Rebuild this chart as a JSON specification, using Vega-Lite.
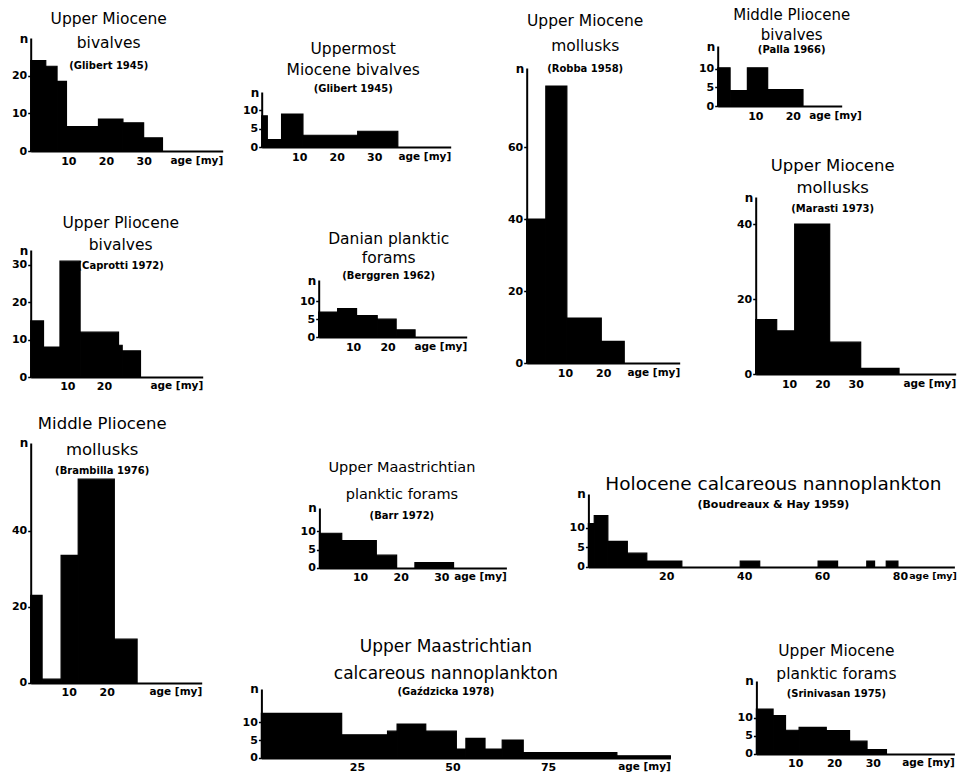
{
  "$schema": "https://vega.github.io/schema/vega-lite/v6.json",
  "background": "white",
  "padding": {"left": 10.7, "top": 7, "right": 2, "bottom": 0},
  "datasets": {
    "p1": [{"age_from":0,"age_to":4,"n":24},{"age_from":4,"age_to":7,"n":22.5},{"age_from":7,"age_to":9.5,"n":18.5},{"age_from":9.5,"age_to":18,"n":6.5},{"age_from":18,"age_to":24.5,"n":8.5},{"age_from":24.5,"age_to":30,"n":7.5},{"age_from":30,"age_to":35,"n":3.5}],
    "p2": [{"age_from":0,"age_to":1.5,"n":8.5},{"age_from":1.5,"age_to":5.3,"n":2},{"age_from":5.3,"age_to":11,"n":9},{"age_from":11,"age_to":25.6,"n":3.2},{"age_from":25.6,"age_to":36.3,"n":4.3}],
    "p3": [{"age_from":0,"age_to":5,"n":40},{"age_from":5,"age_to":10.5,"n":77},{"age_from":10.5,"age_to":19.5,"n":12.5},{"age_from":19.5,"age_to":25.5,"n":6}],
    "p4": [{"age_from":0,"age_to":3.3,"n":10.2},{"age_from":3.3,"age_to":7.9,"n":4.1},{"age_from":7.9,"age_to":13.3,"n":10.2},{"age_from":13.3,"age_to":22.7,"n":4.4}],
    "p5": [{"age_from":0,"age_to":3.5,"n":15},{"age_from":3.5,"age_to":8,"n":8},{"age_from":8,"age_to":13.5,"n":31},{"age_from":13.5,"age_to":24,"n":12},{"age_from":24,"age_to":25,"n":8.5},{"age_from":25,"age_to":30,"n":7}],
    "p6": [{"age_from":0,"age_to":5.5,"n":7},{"age_from":5.5,"age_to":11,"n":8},{"age_from":11,"age_to":17,"n":6},{"age_from":17,"age_to":22.5,"n":5},{"age_from":22.5,"age_to":28,"n":2}],
    "p7": [{"age_from":0,"age_to":6.3,"n":14.5},{"age_from":6.3,"age_to":11.7,"n":11.5},{"age_from":11.7,"age_to":22.2,"n":40},{"age_from":22.2,"age_to":31.5,"n":8.5},{"age_from":31.5,"age_to":43,"n":1.5}],
    "p8": [{"age_from":0,"age_to":3,"n":23},{"age_from":3,"age_to":8,"n":1},{"age_from":8,"age_to":12.5,"n":33.5},{"age_from":12.5,"age_to":22,"n":53.5},{"age_from":22,"age_to":28,"n":11.5}],
    "p9": [{"age_from":0,"age_to":5.5,"n":9.5},{"age_from":5.5,"age_to":14,"n":7.5},{"age_from":14,"age_to":19,"n":3.5},{"age_from":23.5,"age_to":33,"n":1.5}],
    "p10": [{"age_from":0,"age_to":1.5,"n":11},{"age_from":1.5,"age_to":5,"n":13},{"age_from":5,"age_to":10,"n":6.5},{"age_from":10,"age_to":15,"n":3.5},{"age_from":15,"age_to":24,"n":1.5},{"age_from":39,"age_to":44,"n":1.5},{"age_from":59,"age_to":64,"n":1.5},{"age_from":71.5,"age_to":73.5,"n":1.5},{"age_from":76.5,"age_to":79.5,"n":1.5}],
    "p11": [{"age_from":0,"age_to":21,"n":12.5},{"age_from":21,"age_to":33,"n":6.5},{"age_from":33,"age_to":35.5,"n":7.5},{"age_from":35.5,"age_to":43,"n":9.5},{"age_from":43,"age_to":51,"n":7.5},{"age_from":51,"age_to":53.5,"n":2.5},{"age_from":53.5,"age_to":58.5,"n":5.5},{"age_from":58.5,"age_to":63,"n":2.5},{"age_from":63,"age_to":68.5,"n":5},{"age_from":68.5,"age_to":93,"n":1.5},{"age_from":93,"age_to":107,"n":0.6}],
    "p12": [{"age_from":0,"age_to":4.3,"n":12.3},{"age_from":4.3,"age_to":7.5,"n":10.5},{"age_from":7.5,"age_to":11,"n":6.5},{"age_from":11,"age_to":18,"n":7.3},{"age_from":18,"age_to":24,"n":6.4},{"age_from":24,"age_to":28.5,"n":3.5},{"age_from":28.5,"age_to":33.5,"n":1.2}]
  },
  "spacing": 24,
  "vconcat": [
    {
      "spacing": 0,
      "hconcat": [
        {
          "spacing": 0,
          "vconcat": [
            {"width": 1, "height": 4, "data": {"values": []}, "mark": "point"},
            {
              "spacing": 49,
              "vconcat": [
                {
                  "width": 192, "height": 113, "data": {"name": "p1"},
                  "title": {"text": ["Upper Miocene", "bivalves"], "subtitle": "(Glibert 1945)", "offset": -39, "dx": -18, "lineHeight": 25, "subtitlePadding": 9},
                  "mark": "bar",
                  "encoding": {
                    "x": {"field": "age_from", "type": "quantitative", "scale": {"domain": [0, 51], "nice": false}, "axis": {"values": [10, 20, 30], "title": "age [my]", "titleX": 192}},
                    "x2": {"field": "age_to"},
                    "y": {"field": "n", "type": "quantitative", "scale": {"domain": [0, 30], "nice": false}, "axis": {"values": [0, 10, 20], "title": "n"}},
                    "y2": {"datum": 0}
                  }
                },
                {
                  "width": 172, "height": 127, "data": {"name": "p5"},
                  "title": {"text": ["Upper Pliocene", "bivalves"], "subtitle": "(Caprotti 1972)", "offset": -27, "dx": 4, "lineHeight": 23, "subtitlePadding": 7},
                  "mark": "bar",
                  "encoding": {
                    "x": {"field": "age_from", "type": "quantitative", "scale": {"domain": [0, 47], "nice": false}, "axis": {"values": [10, 20], "title": "age [my]", "titleX": 172}},
                    "x2": {"field": "age_to"},
                    "y": {"field": "n", "type": "quantitative", "scale": {"domain": [0, 34], "nice": false}, "axis": {"values": [0, 10, 20, 30], "title": "n"}},
                    "y2": {"datum": 0}
                  }
                }
              ]
            }
          ]
        },
        {"width": 18.7, "height": 1, "data": {"values": []}, "mark": "point"},
        {
          "spacing": 0,
          "vconcat": [
            {"width": 1, "height": 34, "data": {"values": []}, "mark": "point"},
            {
              "spacing": 69,
              "vconcat": [
                {
                  "width": 189, "height": 55, "data": {"name": "p2"},
                  "title": {"text": ["Uppermost", "Miocene bivalves"], "subtitle": "(Glibert 1945)", "offset": -8, "dx": -3, "lineHeight": 22, "subtitlePadding": 5},
                  "mark": "bar",
                  "encoding": {
                    "x": {"field": "age_from", "type": "quantitative", "scale": {"domain": [0, 50.4], "nice": false}, "axis": {"values": [10, 20, 30], "title": "age [my]", "titleX": 189}},
                    "x2": {"field": "age_to"},
                    "y": {"field": "n", "type": "quantitative", "scale": {"domain": [0, 15], "nice": false}, "axis": {"values": [0, 5, 10], "title": "n"}},
                    "y2": {"datum": 0}
                  }
                },
                {
                  "spacing": 0,
                  "hconcat": [
                    {"width": 36.7, "height": 1, "data": {"values": []}, "mark": "point"},
                    {
                      "width": 148, "height": 57, "data": {"name": "p6"},
                      "title": {"text": ["Danian planktic", "forams"], "subtitle": "(Berggren 1962)", "offset": -7, "dx": -4, "lineHeight": 20, "subtitlePadding": 4},
                      "mark": "bar",
                      "encoding": {
                        "x": {"field": "age_from", "type": "quantitative", "scale": {"domain": [0, 43], "nice": false}, "axis": {"values": [10, 20], "title": "age [my]", "titleX": 148}},
                        "x2": {"field": "age_to"},
                        "y": {"field": "n", "type": "quantitative", "scale": {"domain": [0, 16], "nice": false}, "axis": {"values": [0, 5, 10], "title": "n"}},
                        "y2": {"datum": 0}
                      }
                    }
                  ]
                }
              ]
            }
          ]
        },
        {"width": 39.7, "height": 1, "data": {"values": []}, "mark": "point"},
        {
          "spacing": 0,
          "vconcat": [
            {"width": 1, "height": 6, "data": {"values": []}, "mark": "point"},
            {
              "width": 153, "height": 295, "data": {"name": "p3"},
              "title": {"text": ["Upper Miocene", "mollusks"], "subtitle": "(Robba 1958)", "offset": -12, "dx": -18, "lineHeight": 26, "subtitlePadding": 9},
              "mark": "bar",
              "encoding": {
                "x": {"field": "age_from", "type": "quantitative", "scale": {"domain": [0, 40], "nice": false}, "axis": {"values": [10, 20], "title": "age [my]", "titleX": 153}},
                "x2": {"field": "age_to"},
                "y": {"field": "n", "type": "quantitative", "scale": {"domain": [0, 82], "nice": false}, "axis": {"values": [0, 20, 40, 60], "title": "n"}},
                "y2": {"datum": 0}
              }
            }
          ]
        },
        {"width": 17.7, "height": 1, "data": {"values": []}, "mark": "point"},
        {
          "spacing": 0,
          "vconcat": [
            {"width": 1, "height": 1, "data": {"values": []}, "mark": "point"},
            {
              "spacing": 36,
              "vconcat": [
                {
                  "width": 124, "height": 60, "data": {"name": "p4"},
                  "title": {"text": ["Middle Pliocene", "bivalves"], "subtitle": "(Palla 1966)", "offset": -15, "dx": 12, "fontSize": 15, "lineHeight": 20, "subtitlePadding": 2},
                  "mark": "bar",
                  "encoding": {
                    "x": {"field": "age_from", "type": "quantitative", "scale": {"domain": [0, 33], "nice": false}, "axis": {"values": [10, 20], "title": "age [my]", "titleX": 91, "titleAlign": "left"}},
                    "x2": {"field": "age_to"},
                    "y": {"field": "n", "type": "quantitative", "scale": {"domain": [0, 16], "nice": false}, "axis": {"values": [0, 5, 10], "title": "n"}},
                    "y2": {"datum": 0}
                  }
                },
                {
                  "spacing": 0,
                  "hconcat": [
                    {"width": 17.7, "height": 1, "data": {"values": []}, "mark": "point"},
                    {
                      "width": 200, "height": 177, "data": {"name": "p7"},
                      "title": {"text": ["Upper Miocene", "mollusks"], "subtitle": "(Marasti 1973)", "offset": -23, "dx": -23, "fontSize": 16.5, "lineHeight": 23, "subtitlePadding": 7},
                      "mark": "bar",
                      "encoding": {
                        "x": {"field": "age_from", "type": "quantitative", "scale": {"domain": [0, 60], "nice": false}, "axis": {"values": [10, 20, 30], "title": "age [my]", "titleX": 200}},
                        "x2": {"field": "age_to"},
                        "y": {"field": "n", "type": "quantitative", "scale": {"domain": [0, 47.2], "nice": false}, "axis": {"values": [0, 20, 40], "title": "n"}},
                        "y2": {"datum": 0}
                      }
                    }
                  ]
                }
              ]
            }
          ]
        }
      ]
    },
    {
      "spacing": 39.7,
      "hconcat": [
        {
          "width": 171, "height": 240, "data": {"name": "p8"},
          "title": {"text": ["Middle Pliocene", "mollusks"], "subtitle": "(Brambilla 1976)", "offset": -39, "dx": -14, "fontSize": 16.5, "lineHeight": 26, "subtitlePadding": 7.5},
          "mark": "bar",
          "encoding": {
            "x": {"field": "age_from", "type": "quantitative", "scale": {"domain": [0, 45], "nice": false}, "axis": {"values": [10, 20], "title": "age [my]", "titleX": 171}},
            "x2": {"field": "age_to"},
            "y": {"field": "n", "type": "quantitative", "scale": {"domain": [0, 63], "nice": false}, "axis": {"values": [0, 20, 40], "title": "n"}},
            "y2": {"datum": 0}
          }
        },
        {
          "spacing": 0,
          "vconcat": [
            {"width": 1, "height": 16, "data": {"values": []}, "mark": "point"},
            {
              "spacing": 54,
              "vconcat": [
                {
                  "spacing": 0,
                  "hconcat": [
                    {"width": 37.7, "height": 1, "data": {"values": []}, "mark": "point"},
                    {
                      "spacing": 0,
                      "vconcat": [
                        {"width": 1, "height": 1, "data": {"values": []}, "mark": "point"},
                        {
                          "width": 187, "height": 60, "data": {"name": "p9"},
                          "title": {"text": ["Upper Maastrichtian", "planktic forams"], "subtitle": "(Barr 1972)", "offset": -20, "dx": -11, "fontSize": 14.5, "lineHeight": 27, "subtitlePadding": 8},
                          "mark": "bar",
                          "encoding": {
                            "x": {"field": "age_from", "type": "quantitative", "scale": {"domain": [0, 46], "nice": false}, "axis": {"values": [10, 20, 30], "title": "age [my]", "titleX": 187}},
                            "x2": {"field": "age_to"},
                            "y": {"field": "n", "type": "quantitative", "scale": {"domain": [0, 16.4], "nice": false}, "axis": {"values": [0, 5, 10], "title": "n"}},
                            "y2": {"datum": 0}
                          }
                        }
                      ]
                    },
                    {"width": 61.7, "height": 1, "data": {"values": []}, "mark": "point"},
                    {
                      "spacing": 0,
                      "vconcat": [
                        {"width": 1, "height": 16, "data": {"values": []}, "mark": "point"},
                        {
                          "width": 366, "height": 73, "data": {"name": "p10"},
                          "title": {"text": "Holocene calcareous nannoplankton", "subtitle": "(Boudreaux & Hay 1959)", "offset": -22, "dx": 2, "fontSize": 18.5, "subtitleFontSize": 11, "subtitlePadding": 5},
                          "mark": "bar",
                          "encoding": {
                            "x": {"field": "age_from", "type": "quantitative", "scale": {"domain": [0, 94], "nice": false}, "axis": {"values": [20, 40, 60, 80], "title": "age [my]", "titleX": 368, "titleFontSize": 9.5}},
                            "x2": {"field": "age_to"},
                            "y": {"field": "n", "type": "quantitative", "scale": {"domain": [0, 18.5], "nice": false}, "axis": {"values": [0, 5, 10], "title": "n"}},
                            "y2": {"datum": 0}
                          }
                        }
                      ]
                    }
                  ]
                },
                {
                  "spacing": 0,
                  "hconcat": [
                    {
                      "spacing": 0,
                      "vconcat": [
                        {"width": 1, "height": 1, "data": {"values": []}, "mark": "point"},
                        {
                          "width": 409, "height": 69, "data": {"name": "p11"},
                          "title": {"text": ["Upper Maastrichtian", "calcareous nannoplankton"], "subtitle": "(Gaździcka 1978)", "offset": -15, "dx": -20, "fontSize": 17, "lineHeight": 27, "subtitlePadding": 4},
                          "mark": "bar",
                          "encoding": {
                            "x": {"field": "age_from", "type": "quantitative", "scale": {"domain": [0, 107], "nice": false}, "axis": {"values": [25, 50, 75], "title": "age [my]", "titleX": 409}},
                            "x2": {"field": "age_to"},
                            "y": {"field": "n", "type": "quantitative", "scale": {"domain": [0, 19.3], "nice": false}, "axis": {"values": [0, 5, 10], "title": "n"}},
                            "y2": {"datum": 0}
                          }
                        }
                      ]
                    },
                    {"width": 64.7, "height": 1, "data": {"values": []}, "mark": "point"},
                    {
                      "spacing": 0,
                      "vconcat": [
                        {"width": 1, "height": 7, "data": {"values": []}, "mark": "point"},
                        {
                          "width": 198, "height": 73, "data": {"name": "p12"},
                          "title": {"text": ["Upper Miocene", "planktic forams"], "subtitle": "(Srinivasan 1975)", "offset": -24, "dx": -19, "lineHeight": 23, "subtitlePadding": 6},
                          "mark": "bar",
                          "encoding": {
                            "x": {"field": "age_from", "type": "quantitative", "scale": {"domain": [0, 51], "nice": false}, "axis": {"values": [10, 20, 30], "title": "age [my]", "titleX": 198}},
                            "x2": {"field": "age_to"},
                            "y": {"field": "n", "type": "quantitative", "scale": {"domain": [0, 20], "nice": false}, "axis": {"values": [0, 5, 10], "title": "n"}},
                            "y2": {"datum": 0}
                          }
                        }
                      ]
                    }
                  ]
                }
              ]
            }
          ]
        }
      ]
    }
  ],
  "config": {
    "view": {"stroke": null},
    "font": "DejaVu Sans",
    "bar": {"color": "black", "stroke": "black", "strokeWidth": 1.2},
    "point": {"opacity": 0},
    "axis": {
      "domainColor": "black", "domainWidth": 2, "tickColor": "black", "tickWidth": 1.5, "tickSize": 3,
      "labelColor": "black", "labelFont": "DejaVu Sans", "labelFontSize": 11, "labelFontWeight": "bold", "labelPadding": 1,
      "grid": false, "titleColor": "black", "titleFont": "DejaVu Sans", "titleFontWeight": "bold", "titleFontSize": 10.5
    },
    "axisX": {"ticks": false, "labelPadding": 4, "titleAlign": "right", "titleBaseline": "top", "titleY": 4, "titleAngle": 0},
    "axisY": {"titleAngle": 0, "titleAlign": "right", "titleBaseline": "middle", "titleX": -3, "titleY": 0, "titleFontSize": 12},
    "title": {
      "fontSize": 15.5, "fontWeight": "normal", "color": "black", "lineHeight": 23, "font": "DejaVu Sans",
      "subtitleFontSize": 10, "subtitleFontWeight": "bold", "subtitleColor": "black", "subtitlePadding": 3, "subtitleFont": "DejaVu Sans",
      "anchor": "middle", "frame": "group"
    }
  }
}
